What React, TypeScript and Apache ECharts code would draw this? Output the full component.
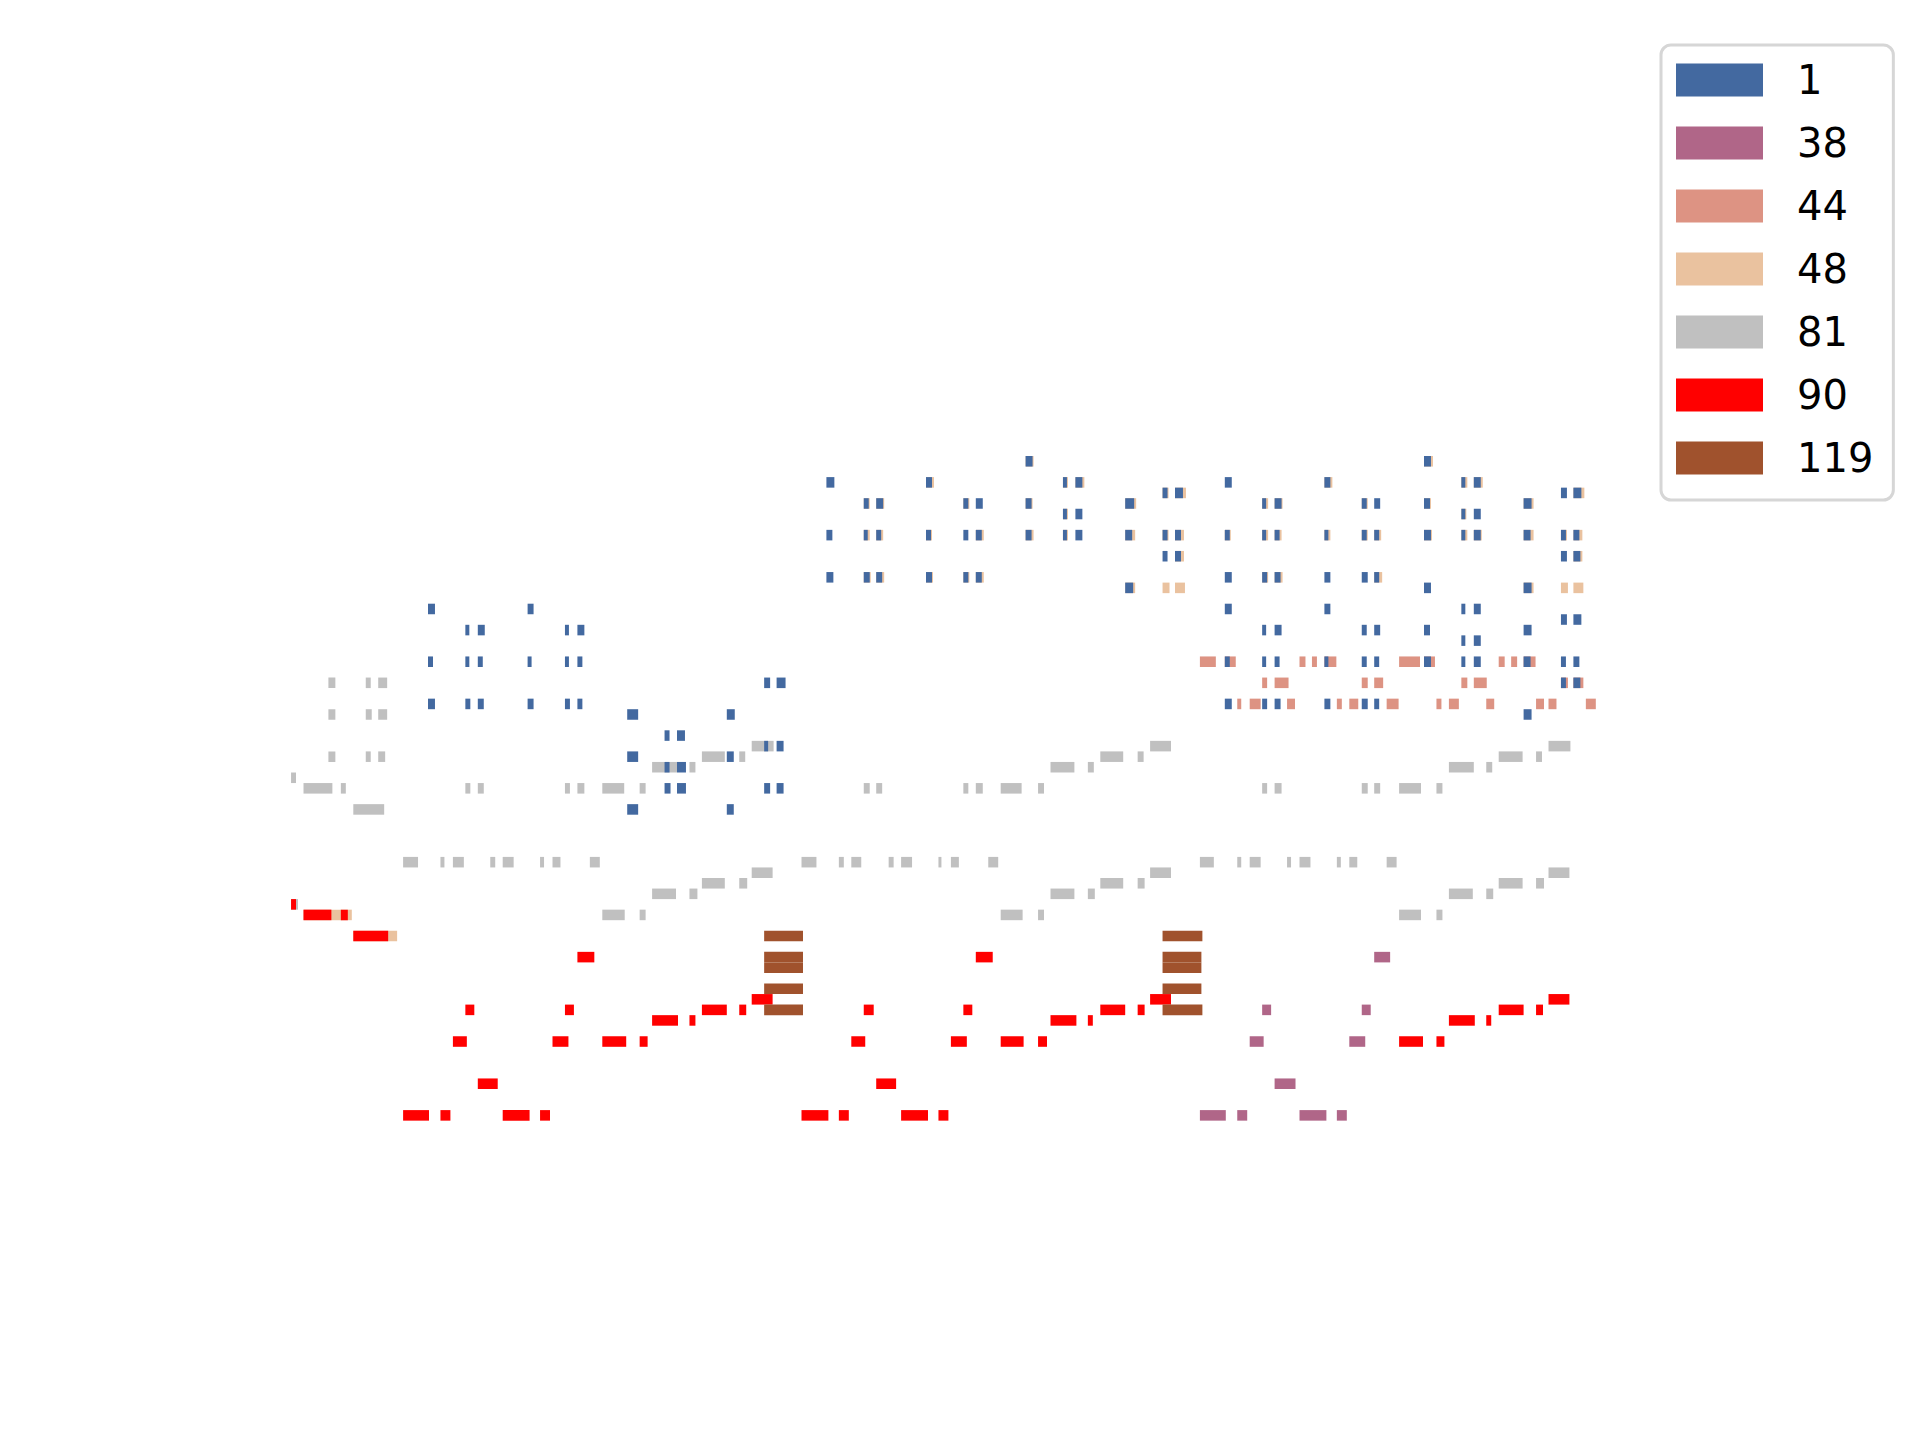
import React, { useEffect, useRef } from "react";
import * as echarts from "echarts";

// Each note: [start (beats), duration (beats), pitch]
const programs = ["1", "38", "44", "48", "81", "90", "119"];
const colors = ["#4369a0", "#b06688", "#dd9383", "#eac29f", "#c0c0c0", "#ff0000", "#a0522d"];

const prog1: number[][] = [
  [8, .28, 82], [8, .2, 77], [8, .28, 73],
  [9.5, .16, 80], [9.5, .16, 77], [9.5, .2, 73],
  [10, .28, 80], [10, .2, 77], [10, .24, 73],
  [12, .24, 82], [12, .16, 77], [12, .24, 73],
  [13.5, .16, 80], [13.5, .16, 77], [13.5, .2, 73],
  [14, .28, 80], [14, .2, 77], [14, .2, 73],
  [16, .44, 72], [16, .44, 68], [16, .44, 63],
  [17.5, .2, 70], [17.5, .2, 67], [17.5, .24, 65],
  [18, .32, 70], [18, .36, 67], [18, .36, 65],
  [20, .32, 72], [20, .28, 68], [20, .28, 63],
  [21.5, .24, 75], [21.5, .16, 69], [21.5, .24, 65],
  [22, .36, 75], [22, .28, 69], [22, .28, 65],
  [24, .32, 94], [24, .24, 89], [24, .28, 85],
  [25.5, .2, 92], [25.5, .16, 89], [25.5, .24, 85],
  [26, .28, 92], [26, .2, 89], [26, .24, 85],
  [28, .24, 94], [28, .2, 89], [28, .24, 85],
  [29.5, .2, 92], [29.5, .2, 89], [29.5, .2, 85],
  [30, .28, 92], [30, .24, 89], [30, .24, 85],
  [32, .28, 96], [32, .24, 92], [32, .24, 89],
  [33.5, .16, 94], [33.5, .16, 91], [33.5, .16, 89],
  [34, .28, 94], [34, .28, 91], [34, .28, 89],
  [36, .36, 92], [36, .28, 89], [36, .32, 84],
  [37.5, .2, 93], [37.5, .2, 89], [37.5, .2, 87],
  [38, .32, 93], [38, .24, 89], [38, .24, 87],
  [40, .28, 94], [40, .2, 89], [40, .28, 85], [40, .28, 82], [40, .2, 77], [40, .28, 73],
  [41.5, .16, 92], [41.5, .16, 89], [41.5, .2, 85], [41.5, .16, 80], [41.5, .16, 77], [41.5, .2, 73],
  [42, .28, 92], [42, .2, 89], [42, .24, 85], [42, .28, 80], [42, .2, 77], [42, .24, 73],
  [44, .24, 94], [44, .16, 89], [44, .24, 85], [44, .24, 82], [44, .16, 77], [44, .24, 73],
  [45.5, .2, 92], [45.5, .2, 89], [45.5, .24, 85], [45.5, .2, 80], [45.5, .2, 77], [45.5, .24, 73],
  [46, .24, 92], [46, .2, 89], [46, .2, 85], [46, .24, 80], [46, .2, 77], [46, .2, 73],
  [48, .28, 96], [48, .24, 92], [48, .28, 89], [48, .28, 84], [48, .24, 80], [48, .28, 77],
  [49.5, .16, 94], [49.5, .16, 91], [49.5, .16, 89], [49.5, .16, 82], [49.5, .16, 79], [49.5, .16, 77],
  [50, .28, 94], [50, .28, 91], [50, .28, 89], [50, .28, 82], [50, .28, 79], [50, .28, 77],
  [52, .32, 92], [52, .28, 89], [52, .32, 84], [52, .32, 80], [52, .28, 77], [52, .32, 72],
  [53.5, .24, 93], [53.5, .2, 89], [53.5, .24, 87], [53.5, .24, 81], [53.5, .2, 77], [53.5, .2, 75],
  [54, .32, 93], [54, .24, 89], [54, .28, 87], [54, .32, 81], [54, .24, 77], [54, .28, 75],
];

const prog38: number[][] = [
  [39, 1.04, 34], [40.5, .4, 34], [43, 1.08, 34], [44.5, .4, 34],
  [41, .56, 41], [45, .64, 41],
  [41.5, .36, 44], [45.5, .36, 44],
  [42, .84, 37],
  [46, .64, 49],
];

const prog44: number[][] = [
  [39, .64, 77], [40, .44, 77], [40.5, .16, 73], [41, .44, 73], [41.5, .2, 75], [42, .56, 75],
  [42.5, .32, 73], [43, .24, 77], [43.5, .2, 77], [44, .48, 77], [44.5, .2, 73], [45, .36, 73],
  [45.5, .24, 75], [46, .36, 75], [46.5, .48, 73], [47, .84, 77], [48, .44, 77], [48.5, .2, 73],
  [49, .4, 73], [49.5, .24, 75], [50, .52, 75], [50.5, .32, 73], [51, .24, 77], [51.5, .24, 77],
  [52, .48, 77], [52.5, .32, 73], [53, .32, 73], [53.5, .28, 75], [54, .4, 75], [54.5, .4, 73],
];

const prog48: number[][] = [
  [3, 1.52, 53], [4.5, .44, 53], [5, 1.76, 51],
  [25.5, .24, 92], [25.5, .24, 89], [25.5, .28, 85],
  [26, .32, 92], [26, .28, 89], [26, .32, 85],
  [28, .32, 94], [28, .24, 89], [28, .28, 85],
  [29.5, .24, 92], [29.5, .24, 85],
  [30, .32, 89], [30, .32, 85],
  [32, .32, 96], [32, .28, 92], [32, .32, 89],
  [33.5, .2, 94], [33.5, .2, 91], [33.5, .2, 89],
  [34, .36, 94],
  [36, .44, 92], [36, .4, 89], [36, .4, 84],
  [37.5, .24, 93], [37.5, .24, 89], [37.5, .28, 84],
  [38, .44, 93], [38, .36, 89], [38, .36, 87], [38, .4, 84],
  [40, .24, 89],
  [41.5, .24, 92], [41.5, .24, 89], [41.5, .24, 85],
  [42, .32, 92], [42, .28, 89], [42, .32, 85],
  [44, .32, 94], [44, .24, 89],
  [45.5, .24, 92], [45.5, .24, 89],
  [46, .28, 89], [46, .32, 85],
  [48, .36, 96], [48, .28, 92], [48, .32, 89],
  [49.5, .24, 94], [49.5, .2, 91], [49.5, .24, 89],
  [50, .36, 94], [50, .32, 89],
  [52, .4, 92], [52, .4, 89], [52, .4, 84],
  [53.5, .24, 89], [53.5, .28, 84],
  [54, .44, 93], [54, .36, 89], [54, .36, 87], [54, .4, 84],
];

const prog81: number[][] = [
  [2.5, .2, 66], [2.5, .28, 54], [3, 1.16, 65], [4.5, .2, 65], [5, 1.24, 63],
  [4, .28, 75], [4, .28, 72], [4, .28, 68],
  [5.5, .2, 75], [5.5, .24, 72], [5.5, .2, 68],
  [6, .36, 75], [6, .36, 72], [6, .28, 68],
  [7, .6, 58], [8.5, .16, 58], [9, .44, 58], [10.5, .2, 58], [11, .44, 58], [12.5, .16, 58], [13, .32, 58], [14.5, .4, 58],
  [9.5, .2, 65], [10, .24, 65], [13.5, .2, 65], [14, .28, 65], [15, .88, 65], [16.5, .24, 65],
  [15, .9, 53], [16.5, .24, 53],
  [17, 1.0, 67], [18.5, .24, 67], [17, .96, 55], [18.5, .32, 55],
  [19, .92, 68], [20.5, .24, 68], [19, .92, 56], [20.5, .32, 56],
  [21, .88, 69], [21, .84, 57],
  [23, .6, 58], [24.5, .2, 58], [25, .4, 58], [26.5, .2, 58], [27, .44, 58], [28.5, .12, 58], [29, .32, 58], [30.5, .4, 58],
  [25.5, .24, 65], [26, .24, 65], [29.5, .2, 65], [30, .28, 65], [31, .84, 65], [32.5, .24, 65],
  [31, .88, 53], [32.5, .24, 53],
  [33, .96, 67], [34.5, .24, 67], [33, .96, 55], [34.5, .28, 55],
  [35, .92, 68], [36.5, .24, 68], [35, .92, 56], [36.5, .28, 56],
  [37, .84, 69], [37, .84, 57],
  [39, .56, 58], [40.5, .16, 58], [41, .44, 58], [42.5, .16, 58], [43, .44, 58], [44.5, .16, 58], [45, .32, 58], [46.5, .4, 58],
  [41.5, .2, 65], [42, .28, 65], [45.5, .24, 65], [46, .24, 65], [47, .88, 65], [48.5, .24, 65],
  [47, .88, 53], [48.5, .24, 53],
  [49, 1.0, 67], [50.5, .24, 67], [49, .96, 55], [50.5, .28, 55],
  [51, .96, 68], [52.5, .24, 68], [51, .96, 56], [52.5, .32, 56],
  [53, .88, 69], [53, .84, 57],
];

const prog90: number[][] = [
  [2.5, .2, 54], [3, 1.12, 53], [4.5, .28, 53], [5, 1.4, 51],
  [7, 1.04, 34], [8.5, .4, 34], [11, 1.08, 34], [12.5, .4, 34],
  [23, 1.08, 34], [24.5, .4, 34], [27, 1.08, 34], [28.5, .4, 34],
  [9, .56, 41], [13, .64, 41], [15, .96, 41], [16.5, .32, 41],
  [25, .56, 41], [29, .64, 41], [31, .92, 41], [32.5, .36, 41], [47, .96, 41], [48.5, .32, 41],
  [9.5, .36, 44], [13.5, .36, 44], [19, 1.0, 44], [20.5, .28, 44], [25.5, .4, 44],
  [29.5, .36, 44], [35, 1.0, 44], [36.5, .28, 44], [51, 1.0, 44], [52.5, .28, 44],
  [10, .8, 37], [26, .8, 37],
  [14, .68, 49], [30, .68, 49],
  [17, 1.04, 43], [18.5, .24, 43], [33, 1.04, 43], [34.5, .2, 43], [49, 1.04, 43], [50.5, .2, 43],
  [21, .84, 45], [37, .84, 45], [53, .84, 45],
];

const prog119: number[][] = [
  [21.5, 1.56, 51], [21.5, 1.56, 49], [21.5, 1.56, 48], [21.5, 1.56, 46], [21.5, 1.56, 44],
  [37.5, 1.6, 51], [37.5, 1.56, 49], [37.5, 1.56, 48], [37.5, 1.56, 46], [37.5, 1.6, 44],
];

const tracks = [prog1, prog38, prog44, prog48, prog81, prog90, prog119];
const zOrder = [6, 4, 2, 2, 2, 4, 4];

export default function App() {
  const ref = useRef<HTMLDivElement>(null);
  useEffect(() => {
    if (!ref.current) return;
    const chart = echarts.init(ref.current, undefined, { renderer: "svg" });
    const series = programs.map((name, i) => ({
      name,
      type: "custom",
      z: zOrder[i],
      clip: false,
      itemStyle: { color: colors[i] },
      data: tracks[i],
      renderItem: (params: any, api: any) => {
        const s = api.value(0);
        const d = api.value(1);
        const p = api.value(2);
        const tl = api.coord([s, p + 1]);
        const br = api.coord([s + d, p]);
        return {
          type: "rect",
          shape: { x: tl[0], y: tl[1], width: br[0] - tl[0], height: br[1] - tl[1] },
          style: { fill: colors[i] },
        };
      },
    }));
    chart.setOption({
      animation: false,
      backgroundColor: "#ffffff",
      grid: { left: 179, top: 318.85, width: 1543.8, height: 844 },
      xAxis: { type: "value", min: -2, max: 60, show: false },
      yAxis: { type: "value", min: 30, max: 110, show: false },
      legend: {
        data: programs.map((n) => ({ name: n, icon: "rect" })),
        orient: "vertical",
        left: 1661,
        top: 45,
        itemWidth: 87,
        itemHeight: 33,
        itemGap: 23,
        padding: [15, 20, 22, 15],
        borderColor: "#d6d6d6",
        borderWidth: 3,
        borderRadius: 10,
        backgroundColor: "#ffffff",
        selectedMode: false,
        textStyle: {
          fontSize: 40,
          lineHeight: 33,
          fontFamily: "DejaVu Sans",
          color: "#000000",
          padding: [0, 0, 0, 29],
        },
      },
      series,
    });
    return () => chart.dispose();
  }, []);
  return (
    <div
      ref={ref}
      style={{ position: "absolute", left: 0, top: 0, width: 1920, height: 1440, background: "#fff" }}
    />
  );
}
